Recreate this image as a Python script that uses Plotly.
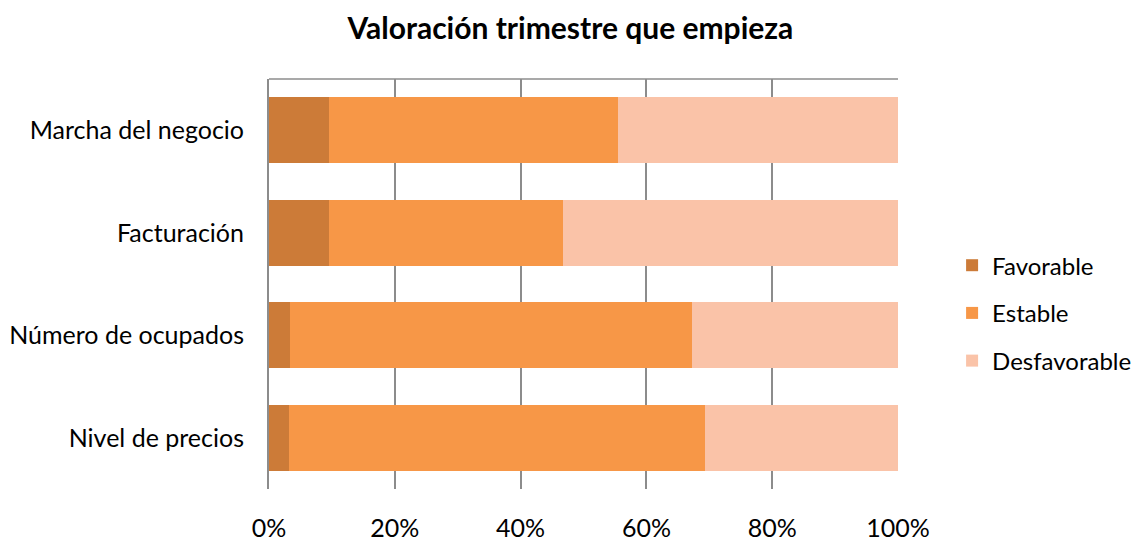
import plotly.graph_objects as go

categories = ["Marcha del negocio", "Facturación", "Número de ocupados", "Nivel de precios"]
favorable = [9.6, 9.6, 3.4, 3.1]
estable = [45.9, 37.1, 63.9, 66.2]
desfavorable = [44.5, 53.3, 32.7, 30.7]
series_names = ["Favorable", "Estable", "Desfavorable"]
colors = ["#CC7B38", "#F79747", "#FAC3A8"]
tick_vals = [0, 20, 40, 60, 80, 100]
tick_text = ["0%", "20%", "40%", "60%", "80%", "100%"]

FONT = "Lato"
fig = go.Figure()
for name, vals, col in zip(series_names, [favorable, estable, desfavorable], colors):
    fig.add_trace(go.Bar(
        y=categories, x=vals, name=name, orientation="h",
        marker=dict(color=col, line=dict(width=0)),
        legendgroup=name,
    ))

fig.update_layout(
    barmode="stack",
    bargap=0.36,
    width=1134, height=542,
    paper_bgcolor="white", plot_bgcolor="white",
    margin=dict(l=269, r=236, t=79, b=53, autoexpand=False),
    title=dict(text="<b>Valoración trimestre que empieza</b>", x=0.503, xanchor="center",
               y=0.948, yanchor="middle", font=dict(family=FONT, size=30, color="black")),
    font=dict(family=FONT, size=24, color="black"),
    legend=dict(x=1.086, xanchor="left", y=0.429, yanchor="middle",
                traceorder="grouped", tracegroupgap=13.5,
                font=dict(family=FONT, size=24, color="black"),
                bgcolor="rgba(0,0,0,0)"),
    showlegend=True,
)
fig.update_xaxes(range=[0, 100], tickvals=tick_vals, ticktext=tick_text,
                 showgrid=True, gridcolor="#8C8C8C", gridwidth=1.5,
                 zeroline=False, showline=False, ticks="", automargin=False,
                 ticklabelstandoff=22, tickfont=dict(family=FONT, size=25, color="black"),
                 fixedrange=True)
fig.update_yaxes(autorange="reversed", showgrid=False, showline=True, linecolor="#8C8C8C",
                 linewidth=2, ticks="", ticklabelstandoff=18, automargin=False,
                 tickfont=dict(family=FONT, size=25, color="black"), fixedrange=True)
fig.add_shape(type="line", xref="paper", yref="paper", x0=0, x1=1, y0=1, y1=1,
              line=dict(color="#8C8C8C", width=1.5))

fig.write_html("out.html", config={"displayModeBar": False},
               post_script="document.body.style.margin='0';document.body.style.overflow='hidden';")
